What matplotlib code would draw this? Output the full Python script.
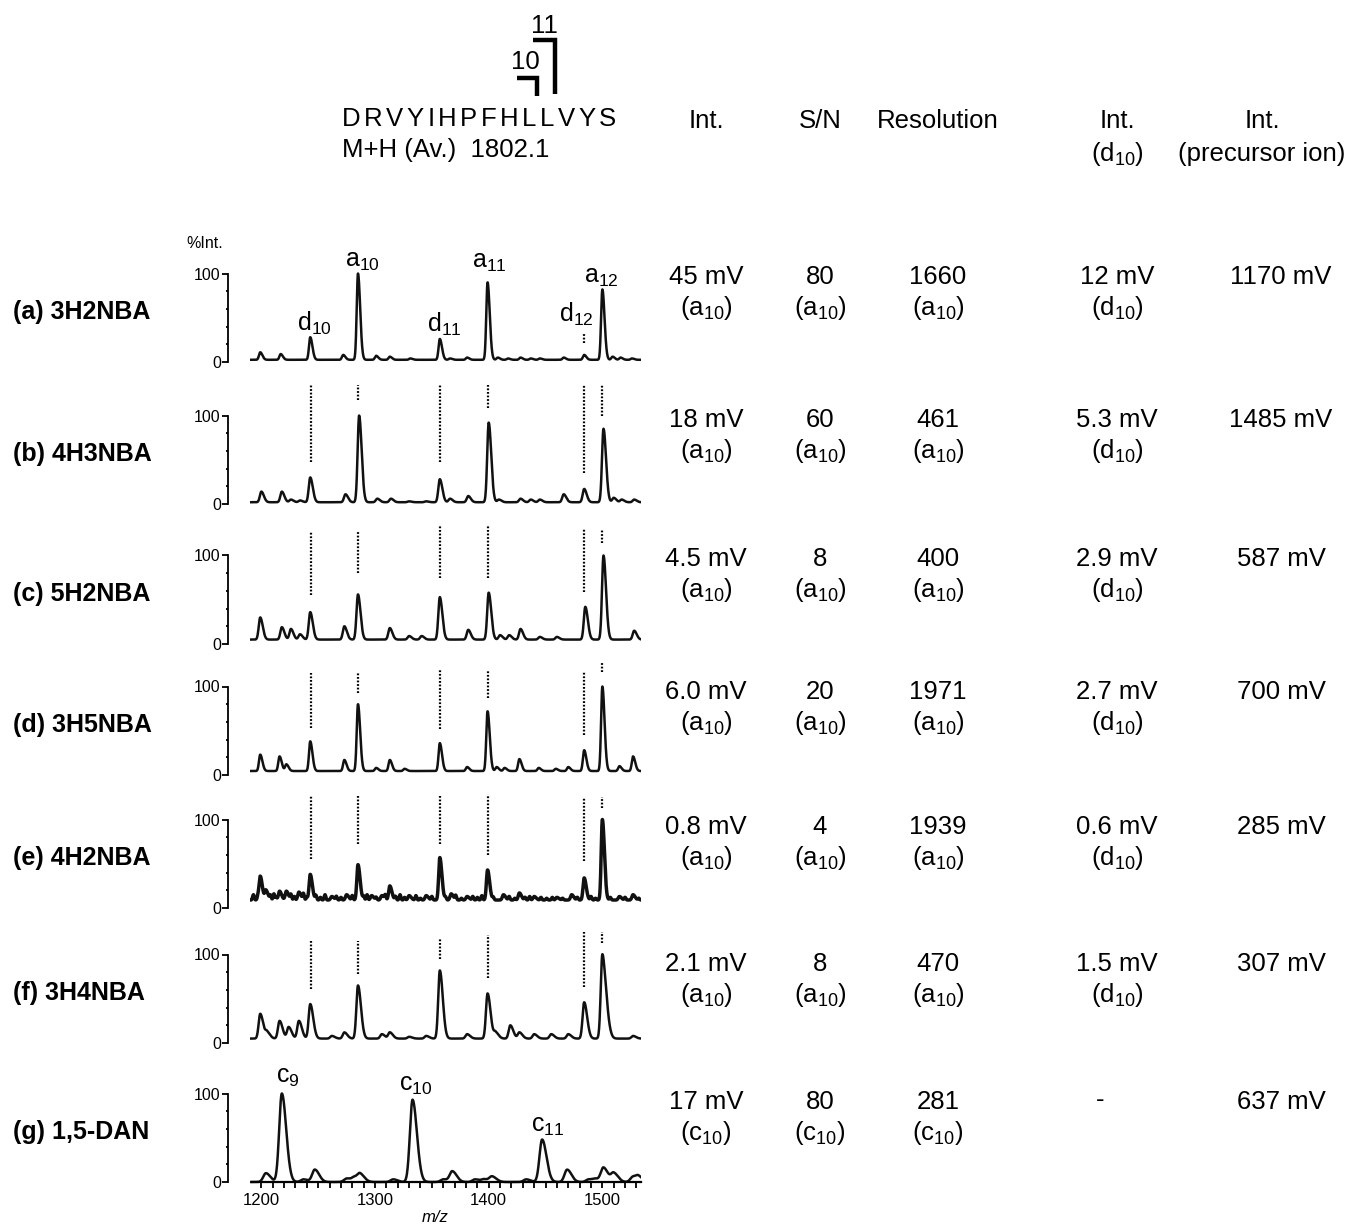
import numpy as np
import matplotlib
matplotlib.use("Agg")
import matplotlib.pyplot as plt
from matplotlib.lines import Line2D

plt.rcParams["font.family"] = ["Liberation Sans", "DejaVu Sans"]
plt.rcParams["mathtext.fontset"] = "custom"
plt.rcParams["mathtext.rm"] = "Liberation Sans"
plt.rcParams["mathtext.it"] = "Liberation Sans:italic"
plt.rcParams["mathtext.bf"] = "Liberation Sans:bold"

# ---- data ----
panel_names = ["(a) 3H2NBA", "(b) 4H3NBA", "(c) 5H2NBA", "(d) 3H5NBA",
               "(e) 4H2NBA", "(f) 3H4NBA", "(g) 1,5-DAN"]

# peak centres (m/z) and peak tops (%Int.) per spectrum
a_mz = [1199, 1217, 1243, 1272, 1285, 1301, 1313, 1331, 1357, 1366, 1381, 1399,
        1408, 1417, 1428, 1437, 1445, 1466, 1484, 1500, 1509, 1516, 1526]
a_top = [11, 9, 28, 8, 100, 7, 6, 4, 26, 4, 5, 90, 5, 4, 5, 4, 4, 5, 8, 82, 6, 5, 4]

b_mz = [1200, 1218, 1226, 1234, 1243, 1274, 1286, 1302, 1314, 1330, 1345, 1357,
        1366, 1382, 1400, 1409, 1428, 1437, 1445, 1466, 1484, 1501, 1510, 1517, 1528]
b_top = [14, 14, 5, 4, 30, 11, 100, 6, 6, 3, 3, 28, 6, 9, 92, 5, 6, 5, 5, 11, 17,
         85, 7, 5, 5]

c_mz = [1199, 1218, 1226, 1234, 1243, 1273, 1285, 1313, 1330, 1341, 1357, 1382,
        1400, 1410, 1418, 1428, 1445, 1460, 1485, 1501, 1528]
c_top = [30, 19, 17, 11, 36, 20, 56, 18, 9, 9, 53, 16, 58, 10, 10, 17, 8, 8, 42,
         100, 15]

d_mz = [1199, 1216, 1222, 1243, 1273, 1285, 1301, 1313, 1326, 1357, 1381, 1399,
        1407, 1414, 1427, 1444, 1459, 1470, 1484, 1500, 1515, 1527]
d_top = [23, 21, 12, 38, 17, 80, 8, 17, 7, 36, 9, 72, 9, 8, 18, 8, 7, 9, 28, 100,
         10, 21]

e_mz = [1199, 1204, 1216, 1222, 1233, 1243, 1262, 1275, 1285, 1297, 1306, 1313,
        1330, 1345, 1357, 1367, 1381, 1399, 1413, 1427, 1440, 1460, 1473, 1484,
        1500, 1515, 1527]
e_top = [36, 20, 19, 19, 18, 38, 13, 15, 49, 14, 14, 25, 14, 14, 57, 16, 13, 43,
         15, 17, 13, 12, 15, 34, 100, 13, 15]
# small spikes of the noisy (e) baseline
e_noise_mz = [1193, 1197, 1208, 1211, 1213, 1226, 1229, 1237, 1240, 1248, 1252,
              1256, 1266, 1270, 1280, 1290, 1293, 1301, 1309, 1318, 1322, 1326,
              1336, 1340, 1350, 1362, 1371, 1376, 1386, 1390, 1394, 1404, 1418,
              1423, 1432, 1436, 1446, 1451, 1456, 1465, 1478, 1490, 1494, 1507,
              1520, 1532]
e_noise_top = [15, 13, 14, 16, 12, 15, 13, 16, 12, 14, 12, 15, 13, 12, 14, 13, 15,
               12, 14, 13, 15, 12, 14, 11, 13, 12, 14, 11, 13, 12, 14, 12, 13, 11,
               12, 13, 12, 11, 12, 11, 12, 13, 11, 12, 12, 11]

f_mz = [1199, 1205, 1216, 1224, 1233, 1243, 1262, 1273, 1285, 1306, 1313, 1330,
        1345, 1357, 1381, 1399, 1406, 1419, 1427, 1440, 1455, 1470, 1484, 1500,
        1504, 1527]
f_top = [33, 12, 25, 18, 25, 44, 8, 12, 65, 10, 12, 7, 8, 82, 10, 56, 12, 20, 12,
         10, 10, 10, 46, 100, 22, 8]

g_mz = [1204, 1218, 1237, 1247, 1275, 1282, 1287, 1316, 1333, 1360, 1368, 1388,
        1396, 1403, 1433, 1447, 1469, 1488, 1494, 1501, 1510, 1527, 1532]
g_top = [10, 100, 3, 14, 4, 5, 8, 3, 93, 3, 12, 3, 3, 6, 3, 48, 14, 3, 3, 16, 10,
         6, 5]

baselines = [2.5, 2, 5, 4.5, 9, 5, 0]

# fragment ion positions used for the dotted guide lines
ion_mz = [1244, 1285, 1357, 1399, 1484, 1500]   # d10 a10 d11 a11 d12 a12
guide_top = [
    [None, None, None, None, 33, None],
    [135, 135, 135, 135, 135, 135],
    [127, 127, 135, 133, 130, 130],
    [115, 115, 119, 119, 117, 128],
    [127, 127, 127, 127, 125, 125],
    [115, 115, 118, 122, 125, 125],
]
guide_bottom = [
    [None, None, None, None, 21, None],
    [48, 118, 48, 109, 35, 99],
    [55, 80, 75, 75, 59, 114],
    [53, 93, 52, 87, 45, 116],
    [55, 72, 72, 60, 53, 113],
    [61, 78, 95, 74, 63, 113],
]

# table
col_int = ["45 mV", "18 mV", "4.5 mV", "6.0 mV", "0.8 mV", "2.1 mV", "17 mV"]
col_sn = ["80", "60", "8", "20", "4", "8", "80"]
col_res = ["1660", "461", "400", "1971", "1939", "470", "281"]
col_int_d10 = ["12 mV", "5.3 mV", "2.9 mV", "2.7 mV", "0.6 mV", "1.5 mV", "-"]
col_int_prec = ["1170 mV", "1485 mV", "587 mV", "700 mV", "285 mV", "307 mV",
                "637 mV"]
ref_ion = ["a", "a", "a", "a", "a", "a", "c"]

peptide = "DRVYIHPFHLLVYS"

# ---- layout (pixels of the 1353x1227 picture) ----
W, H = 1353, 1227
zero_px = [362, 504, 644, 775, 908, 1043, 1182]
row_y = [275, 418, 557, 690, 825, 962, 1100]
S = 0.885  # px per %Int. unit
TXT = 18.5


def fx(px):
    return px / W


def fy(py):
    return 1 - py / H


grid = np.linspace(1190, 1534, 2400)


def trace(mzs, tops, base, wl, wr):
    y = np.full_like(grid, float(base))
    for c, t in zip(mzs, tops):
        s = np.where(grid < c, wl, wr)
        y += (t - base) * np.exp(-0.5 * ((grid - c) / s) ** 2)
    return y


spectra = [(a_mz, a_top, 1.1, 1.9), (b_mz, b_top, 1.3, 2.2), (c_mz, c_top, 1.3, 2.2),
           (d_mz, d_top, 1.1, 1.9), (e_mz, e_top, 1.0, 1.8), (f_mz, f_top, 1.4, 2.6),
           (g_mz, g_top, 2.3, 3.8)]

fig = plt.figure(figsize=(W / 100, H / 100), dpi=100)

for i, (mzs, tops, wl, wr) in enumerate(spectra):
    y0 = zero_px[i]
    ax = fig.add_axes([fx(250), fy(y0 + 5 * S), 391 / W, 145 * S / H])
    ax.set_xlim(1190, 1534)
    ax.set_ylim(-5, 140)
    ax.patch.set_alpha(0)

    y = trace(mzs, tops, baselines[i], wl, wr)
    lw = 1.8
    if i == 4:
        y = y + trace(e_noise_mz, e_noise_top, baselines[i], 0.7, 0.7) - baselines[i]
        lw = 2.5
    ax.plot(grid, y, color="#111111", lw=lw, solid_joinstyle="round")

    for sp in ["top", "right"]:
        ax.spines[sp].set_visible(False)
    ax.spines["left"].set_position(("outward", 16))
    ax.spines["left"].set_bounds(0, 100)
    ax.spines["left"].set_linewidth(1.3)
    ax.set_yticks([0, 100])
    ax.set_yticklabels(["0", "100"], fontsize=11.5)
    ax.set_yticks([20, 40, 60, 80], minor=True)
    ax.tick_params(axis="y", which="major", direction="out", length=4, width=1.3, pad=1)
    ax.tick_params(axis="y", which="minor", direction="out", length=1.5, width=1.3)

    if i < 6:
        ax.spines["bottom"].set_visible(False)
        ax.set_xticks([])
        for k in range(6):
            t = guide_top[i][k]
            if t is None:
                continue
            ax.plot([ion_mz[k], ion_mz[k]], [guide_bottom[i][k], t], color="k",
                    lw=1.6, ls=(0, (0.8, 0.8)), clip_on=False)
    else:
        ax.spines["bottom"].set_position(("data", 0))
        ax.spines["bottom"].set_bounds(1192, 1534)
        ax.spines["bottom"].set_linewidth(1.6)
        ax.set_xticks([1200, 1300, 1400, 1500])
        ax.set_xticklabels(["1200", "1300", "1400", "1500"], fontsize=12)
        ax.set_xticks(np.arange(1200, 1540, 10), minor=True)
        ax.tick_params(axis="x", which="both", direction="out", length=4, width=1.3, pad=4)

    if i == 0:
        for lab, xx, yy in [("d_{10}", 1247, 35), ("a_{10}", 1289, 108),
                            ("d_{11}", 1361, 34), ("a_{11}", 1401, 107),
                            ("d_{12}", 1477, 45), ("a_{12}", 1499, 89)]:
            ax.text(xx, yy, r"$\mathregular{" + lab + "}$", fontsize=18,
                    ha="center", va="baseline", clip_on=False)
    if i == 6:
        for lab, xx, yy in [("c_{9}", 1223, 112), ("c_{10}", 1336, 103),
                            ("c_{11}", 1452, 57)]:
            ax.text(xx, yy, r"$\mathregular{" + lab + "}$", fontsize=18,
                    ha="center", va="baseline", clip_on=False)

fig.text(fx(205), fy(244), "%Int.", fontsize=11.5, ha="center", va="center")
fig.text(fx(435), fy(1218), "m/z", fontsize=12, style="italic", ha="center", va="center")

# row labels
for i, name in enumerate(panel_names):
    yc = zero_px[i] - 50
    fig.text(fx(13), fy(yc), name, fontsize=18, fontweight="bold", ha="left", va="center")

# header
renderer = fig.canvas.get_renderer()
xp = 342
for ch in peptide:
    t = fig.text(fx(xp), fy(126), ch, fontsize=TXT, ha="left", va="baseline")
    xp += t.get_window_extent(renderer).width + 3.5
fig.text(fx(342), fy(157), "M+H (Av.)  1802.1", fontsize=TXT, ha="left", va="baseline")

fig.text(fx(525), fy(62), "10", fontsize=TXT, ha="center", va="center")
fig.text(fx(544), fy(26), "11", fontsize=TXT, ha="center", va="center")
fig.add_artist(Line2D([fx(517), fx(537), fx(537)], [fy(78), fy(78), fy(96)],
                      color="k", lw=3.2, solid_capstyle="butt", solid_joinstyle="miter"))
fig.add_artist(Line2D([fx(533), fx(555), fx(555)], [fy(40), fy(40), fy(94)],
                      color="k", lw=3.2, solid_capstyle="butt", solid_joinstyle="miter"))

cols_x = [706, 820, 938, 1117, 1281]
fig.text(fx(cols_x[0]), fy(128), "Int.", fontsize=TXT, ha="center", va="baseline")
fig.text(fx(cols_x[1]), fy(128), "S/N", fontsize=TXT, ha="center", va="baseline")
fig.text(fx(cols_x[2]), fy(128), "Resolution", fontsize=TXT, ha="center", va="baseline")
fig.text(fx(cols_x[3]), fy(128), "Int.", fontsize=TXT, ha="center", va="baseline")
fig.text(fx(cols_x[3]), fy(161), r"(d$_{10}$)", fontsize=TXT, ha="center", va="baseline")
fig.text(fx(1262), fy(128), "Int.", fontsize=TXT, ha="center", va="baseline")
fig.text(fx(1262), fy(161), "(precursor ion)", fontsize=TXT, ha="center", va="baseline")

# table body
for i in range(7):
    b1 = row_y[i] + 9
    b2 = row_y[i] + 40
    sub = "(" + ref_ion[i] + r"$_{10}$)"
    for cx, val in zip(cols_x[:3], [col_int[i], col_sn[i], col_res[i]]):
        fig.text(fx(cx), fy(b1), val, fontsize=TXT, ha="center", va="baseline")
        fig.text(fx(cx), fy(b2), sub, fontsize=TXT, ha="center", va="baseline")
    if col_int_d10[i] == "-":
        fig.text(fx(1100), fy(b1 - 2), "-", fontsize=TXT, ha="center", va="baseline")
    else:
        fig.text(fx(cols_x[3]), fy(b1), col_int_d10[i], fontsize=TXT, ha="center", va="baseline")
        fig.text(fx(cols_x[3]), fy(b2), r"(d$_{10}$)", fontsize=TXT, ha="center", va="baseline")
    fig.text(fx(cols_x[4]), fy(b1), col_int_prec[i], fontsize=TXT, ha="center", va="baseline")

fig.savefig("out.png", dpi=100, facecolor="white")
